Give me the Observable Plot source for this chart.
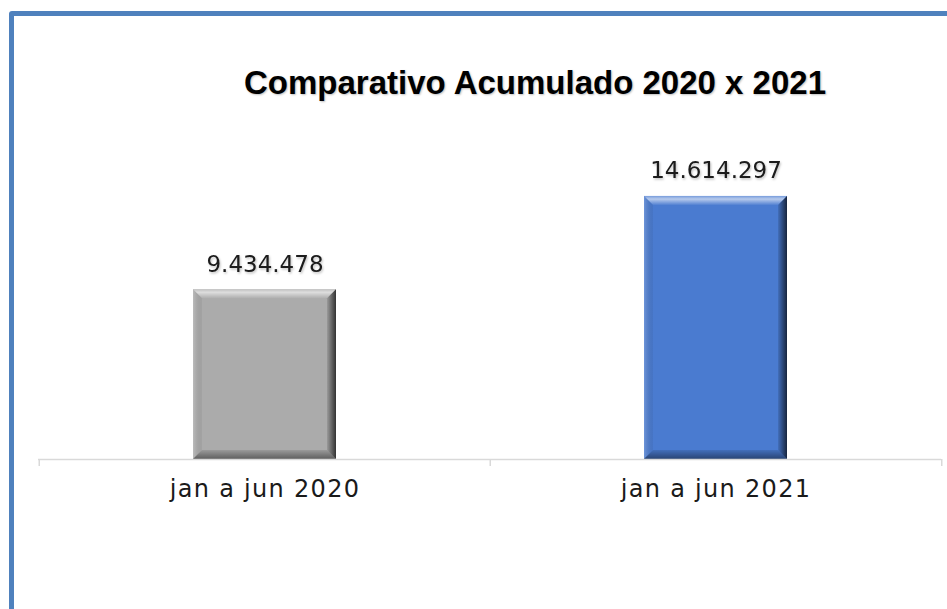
<!DOCTYPE html>
<html><head><meta charset="utf-8">
<script src="https://cdn.jsdelivr.net/npm/d3@7"></script>
<script src="https://cdn.jsdelivr.net/npm/@observablehq/plot@0.6"></script>
<style>
html,body{margin:0;padding:0;background:#fff;width:947px;height:609px;overflow:hidden;position:relative;}
#frame{position:absolute;left:9px;top:11px;width:1000px;height:700px;border:5px solid #4f81bd;border-radius:3px;box-sizing:border-box;}
#title{position:absolute;left:135px;width:800px;top:64px;text-align:center;font-family:"Liberation Sans",Arial,sans-serif;font-weight:bold;font-size:33px;color:#000;text-shadow:1px 1px 2px rgba(0,0,0,0.25);white-space:nowrap;}
#chart{position:absolute;left:0;top:0;}
</style></head>
<body>
<div id="frame"></div>
<div id="title">Comparativo Acumulado 2020 x 2021</div>
<div id="chart"></div>
<script>
const categories = ["jan a jun 2020", "jan a jun 2021"];
const values = [9434478, 14614297];
const valueLabels = ["9.434.478", "14.614.297"];
const barColors = ["#ababab", "#4a7bd0"];

const data = categories.map((c, i) => ({cat: c, value: values[i], label: valueLabels[i], color: barColors[i]}));
const W = 947, H = 609, mL = 38, mR = 6, mT = 171, mB = 150;
const step = (W - mL - mR) / categories.length;

const svg = Plot.plot({
  width: W, height: H, marginLeft: mL, marginRight: mR, marginTop: mT, marginBottom: mB,
  style: {background: "transparent", fontFamily: "DejaVu Sans, sans-serif", overflow: "visible"},
  x: {domain: categories, paddingInner: 0.683, paddingOuter: 0.3415, label: null},
  y: {domain: [0, 16000000], axis: null},
  color: {type: "identity"},
  marks: [
    Plot.barY(data, {x: "cat", y: "value", fill: d => d.color}),
    Plot.ruleY([0], {stroke: "#d9d9d9", strokeWidth: 1.5}),
    Plot.ruleX(categories, {x: d => d, dx: -step / 2, y1: 0, y2: 0, insetBottom: -7, stroke: "#d9d9d9", strokeWidth: 1.5}),
    Plot.ruleX([categories[categories.length - 1]], {x: d => d, dx: step / 2, y1: 0, y2: 0, insetBottom: -7, stroke: "#d9d9d9", strokeWidth: 1.5}),
    Plot.text(data, {x: "cat", y: "value", text: "label", dy: -18, lineAnchor: "bottom", fontSize: 23, fill: "#1a1a1a"}),
    Plot.axisX({tickSize: 0, tickPadding: 20, fontSize: 24, fill: "#1a1a1a", label: null})
  ]
});
document.getElementById("chart").appendChild(svg);

// bevel decoration derived from rendered bars
const ns = "http://www.w3.org/2000/svg";
const defs = document.createElementNS(ns, "defs");
defs.innerHTML = `
<linearGradient id="gTop" x1="0" y1="0" x2="0" y2="1">
  <stop offset="0" stop-color="#fff" stop-opacity="0.25"/>
  <stop offset="0.35" stop-color="#fff" stop-opacity="0.6"/>
  <stop offset="1" stop-color="#fff" stop-opacity="0.05"/>
</linearGradient>
<linearGradient id="gLeft" x1="0" y1="0" x2="1" y2="0">
  <stop offset="0" stop-color="#fff" stop-opacity="0.2"/>
  <stop offset="1" stop-color="#000" stop-opacity="0.05"/>
</linearGradient>
<linearGradient id="gRight" x1="0" y1="0" x2="1" y2="0">
  <stop offset="0" stop-color="#000" stop-opacity="0.1"/>
  <stop offset="1" stop-color="#000" stop-opacity="0.7"/>
</linearGradient>
<linearGradient id="gBottom" x1="0" y1="0" x2="0" y2="1">
  <stop offset="0" stop-color="#000" stop-opacity="0.1"/>
  <stop offset="1" stop-color="#000" stop-opacity="0.45"/>
</linearGradient>
<filter id="tshadow" x="-10%" y="-10%" width="120%" height="140%">
  <feDropShadow dx="1" dy="1.5" stdDeviation="1" flood-color="#000" flood-opacity="0.25"/>
</filter>`;
svg.insertBefore(defs, svg.firstChild);
const b = 9;
svg.querySelectorAll('g[aria-label="bar"] rect').forEach(r => {
  const x = +r.getAttribute("x"), y = +r.getAttribute("y"), w = +r.getAttribute("width"), h = +r.getAttribute("height");
  const polys = [
    [[x, y], [x + w, y], [x + w - b, y + b], [x + b, y + b], "url(#gTop)"],
    [[x, y], [x + b, y + b], [x + b, y + h - b], [x, y + h], "url(#gLeft)"],
    [[x + w, y], [x + w, y + h], [x + w - b, y + h - b], [x + w - b, y + b], "url(#gRight)"],
    [[x, y + h], [x + b, y + h - b], [x + w - b, y + h - b], [x + w, y + h], "url(#gBottom)"]
  ];
  polys.forEach(p => {
    const el = document.createElementNS(ns, "polygon");
    el.setAttribute("points", p.slice(0, 4).map(q => q.join(",")).join(" "));
    el.setAttribute("fill", p[4]);
    r.parentNode.appendChild(el);
  });
});
svg.querySelectorAll('g[aria-label="text"]').forEach(g => g.setAttribute("filter", "url(#tshadow)"));
svg.querySelectorAll('g[aria-label="x-axis tick label"] text').forEach(t => t.setAttribute("letter-spacing", "1.3"));
</script>
</body></html>
